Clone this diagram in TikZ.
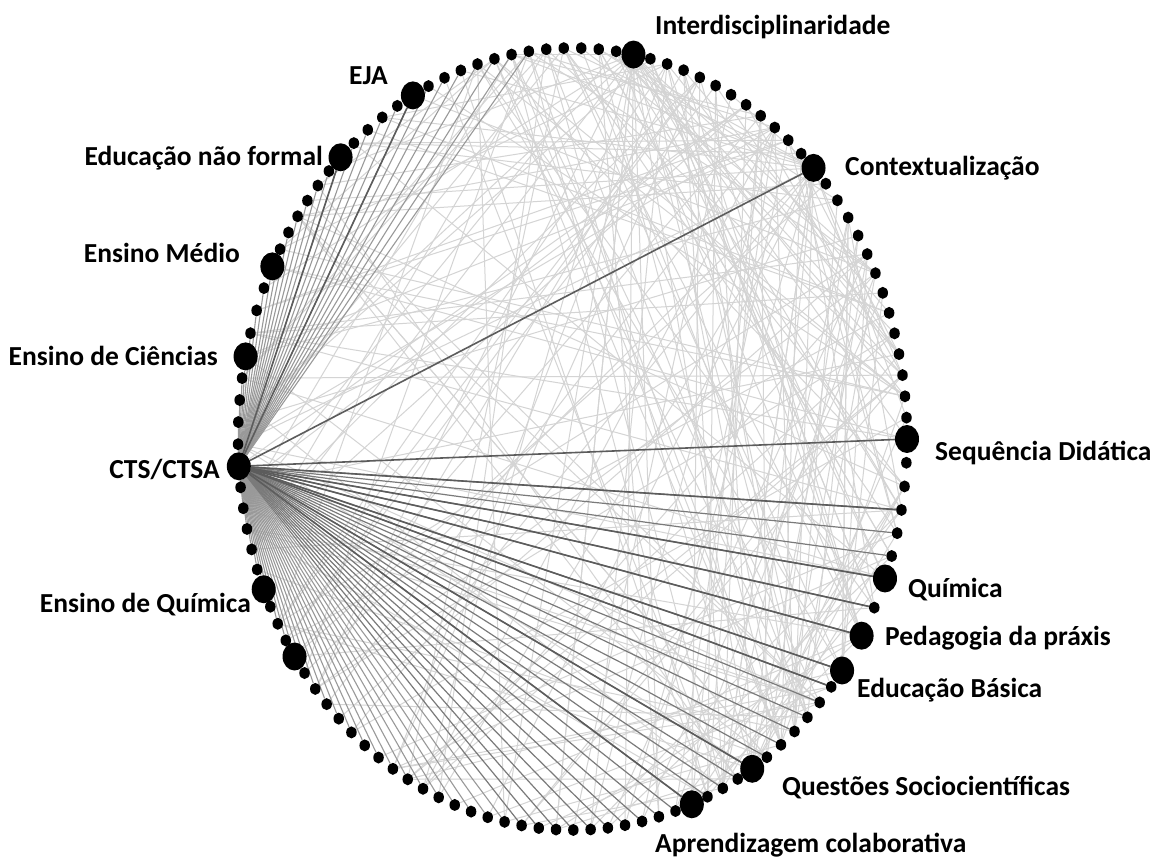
\documentclass[tikz,border=0pt]{standalone}
\usepackage{fontspec}
\setmainfont{Carlito}
\usetikzlibrary{shapes.geometric}
\pgfdeclarelayer{paper}
\pgfdeclarelayer{edges}
\pgfsetlayers{paper,edges,main}

\tikzset{
  dot/.style={ellipse, fill=black, inner sep=0pt, minimum width=10.5pt, minimum height=12pt},
  hubdot/.style={ellipse, fill=black, inner sep=0pt, minimum width=24pt, minimum height=28pt},
  lbl/.style={font=\fontsize{27.5}{32}\selectfont\bfseries, inner sep=0pt},
  mesh/.style={draw=black!17, line width=1pt},
  spoke/.style={draw=black!40, line width=1.1pt},
  midspoke/.style={draw=black!52, line width=1.2pt},
  strong/.style={draw=black!64, line width=1.6pt},
}

\begin{document}
\begin{tikzpicture}[x=1pt,y=-1pt]
\begin{pgfonlayer}{paper}
  \fill[white] (0,0) rectangle (1155,866);
\end{pgfonlayer}
\useasboundingbox (0,0) rectangle (1155,866);
% centre and half-axes of the ring of vertices
\def\cx{572.5}\def\cy{439}\def\rx{334.5}\def\ry{391}

% labelled vertices: index / angle / name
\foreach \i/\t/\nm in {0/0/seq, 14/43.9/ctx, 26/79.5/inter, 39/118.5/eja, 44/133.9/enf,
    51/153.8/em, 55/167.8/ec, 60/184/cts, 66/202.6/eq, 70/213.8/v70, 96/290.9/apc,
    100/302.5/qsc, 107/323.7/eb, 108/329.8/ped, 110/339.1/qui}
  \node[hubdot, alias=\nm] (n\i) at ({\cx+\rx*cos(\t)},{\cy-\ry*sin(\t)}) {};

% small vertices spread evenly between consecutive labelled ones
\foreach \s/\a/\b/\k in {0/0/43.9/13, 14/43.9/79.5/11, 26/79.5/118.5/12, 39/118.5/133.9/4,
    44/133.9/153.8/6, 51/153.8/167.8/3, 55/167.8/184/4, 60/184/202.6/5, 66/202.6/213.8/3,
    70/213.8/290.9/25, 96/290.9/302.5/3, 100/302.5/323.7/6, 108/329.8/339.1/1, 110/339.1/360/5}
  \foreach \j in {1,...,\k} {
    \pgfmathtruncatemacro\idx{\s+\j}
    \pgfmathsetmacro\t{\a+(\b-\a)*\j/(\k+1)}
    \node[dot] (n\idx) at ({\cx+\rx*cos(\t)},{\cy-\ry*sin(\t)}) {};
  }

\begin{pgfonlayer}{edges}
  % faint co-occurrence mesh
  \pgfmathsetseed{4242}
  \foreach \m in {1,...,210} {
    \pgfmathrandominteger{\ra}{0}{55}
    \pgfmathtruncatemacro\ea{mod(\ra+96,116)}
    \pgfmathrandominteger{\rb}{12}{104}
    \pgfmathtruncatemacro\eb{mod(\ea+\rb,116)}
    \draw[mesh] (n\ea) -- (n\eb);
  }
  \foreach \k in {2,8,45,58,64,72,80,88,94,100,104,110,113,5,33,52}
    \draw[mesh] (inter) -- (n\k);
  \foreach \k in {30,36,41,47,75,84,92,98,103,20,3}
    \draw[mesh] (ctx) -- (n\k);
  % spokes of the CTS/CTSA hub
  \foreach \k in {32,...,59}
    \draw[spoke] (cts) -- (n\k);
  \foreach \k in {61,...,85}
    \draw[spoke] (cts) -- (n\k);
  \foreach \k in {86,...,113}
    \draw[midspoke] (cts) -- (n\k);
  \foreach \k in {0,14,113,110,109,108,107,106,100,96,44,39}
    \draw[strong] (cts) -- (n\k);
\end{pgfonlayer}

% labels
\node[lbl, anchor=base west] (l-inter) at (655,35) {Interdisciplinaridade};
\node[lbl, anchor=base west] (l-ctx) at (845,176) {Contextualização};
\node[lbl, anchor=base east] (l-eja) at (388,85) {EJA};
\node[lbl, anchor=base east] (l-enf) at (323,166) {Educação não formal};
\node[lbl, anchor=base east] (l-em) at (240,263) {Ensino Médio};
\node[lbl, anchor=base east] (l-ec) at (218,365) {Ensino de Ciências};
\node[lbl, anchor=base east] (l-cts) at (220,478) {CTS/CTSA};
\node[lbl, anchor=base east] (l-eq) at (251,612) {Ensino de Química};
\node[lbl, anchor=base west] (l-seq) at (935,460) {Sequência Didática};
\node[lbl, anchor=base west] (l-qui) at (908,597) {Química};
\node[lbl, anchor=base west] (l-ped) at (885,645) {Pedagogia da práxis};
\node[lbl, anchor=base west] (l-eb) at (857,697) {Educação Básica};
\node[lbl, anchor=base west] (l-qsc) at (782,795) {Questões Sociocientíficas};
\node[lbl, anchor=base west] (l-apc) at (655,852) {Aprendizagem colaborativa};
\end{tikzpicture}
\end{document}
